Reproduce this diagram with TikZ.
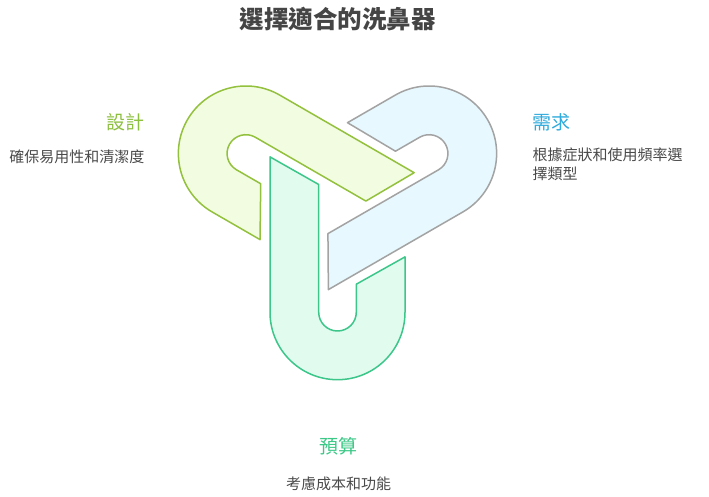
\documentclass[tikz,border=0pt]{standalone}
\usepackage{fontspec}
\setmainfont{Noto Sans CJK TC}
\usetikzlibrary{calc}
\definecolor{limeS}{HTML}{93C13D}
\definecolor{limeF}{HTML}{F2FCE0}
\definecolor{blueS}{HTML}{A3A3A3}
\definecolor{blueF}{HTML}{E7F8FE}
\definecolor{greenS}{HTML}{3CC68A}
\definecolor{greenF}{HTML}{E1FCEF}
\definecolor{blueT}{HTML}{2EAADC}
\definecolor{limeT}{HTML}{8DC03F}
\definecolor{greenT}{HTML}{3CC887}
\definecolor{bodyT}{HTML}{4A4A4A}
\definecolor{titleT}{HTML}{454545}
\newcommand\linkband[2]{%
  \pgfmathsetmacro\bax{337.5+105.8*cos(#1)}%
  \pgfmathsetmacro\bay{206.4+105.8*sin(#1)}%
  \pgfmathsetmacro\bpp{#1+90}%
  \pgfmathsetmacro\bpm{#1-90}%
  \pgfmathsetmacro\buu{#1+180}%
  \coordinate (A) at (\bax,\bay);
  \draw[band,#2] ($(A)+(\bpp:67.5)+(\buu:155.3)$) -- ($(A)+(\bpp:67.5)$)
    arc[start angle=\bpp, end angle=\bpm, radius=67.5]
    -- ($(A)+(\bpm:67.5)+(\buu:55.3)$) -- ($(A)+(\bpm:18.8)+(\buu:28)$)
    -- ($(A)+(\bpm:18.8)$)
    arc[start angle=\bpm, end angle=\bpp, radius=18.8]
    -- ($(A)+(\bpp:18.8)+(\buu:127.7)$) -- cycle;
}
\begin{document}
\begin{tikzpicture}[x=1pt,y=-1pt,
  band/.style={line width=1.5pt, line join=round},
  lbl/.style={inner sep=0pt, font=\fontsize{19}{22}\selectfont},
  body/.style={inner sep=0pt, text=bodyT, font=\fontsize{15}{18.6}\selectfont}]
\fill[white] (0,0) rectangle (709,497);
\useasboundingbox (0,0) rectangle (709,497);
\linkband{210}{draw=limeS, fill=limeF}
\linkband{330}{draw=blueS, fill=blueF}
\linkband{90}{draw=greenS, fill=greenF}
\node[inner sep=0pt, anchor=base, text=titleT, font=\fontsize{24.5}{28}\selectfont\bfseries] (title) at (337.5,29) {選擇適合的洗鼻器};
\node[lbl, anchor=base east, text=limeT] (design) at (144.5,129.3) {設計};
\node[body, anchor=base east] (designT) at (144.5,163) {確保易用性和清潔度};
\node[lbl, anchor=base west, text=blueT] (need) at (532.5,130) {需求};
\node[body, anchor=base west] (needT) at (532.5,160.4) {根據症狀和使用頻率選};
\node[body, anchor=base west] (needT2) at (532.5,179) {擇類型};
\node[lbl, anchor=base, text=greenT] (budget) at (338.5,453.8) {預算};
\node[body, anchor=base] (budgetT) at (338.5,489.9) {考慮成本和功能};
\end{tikzpicture}
\end{document}
